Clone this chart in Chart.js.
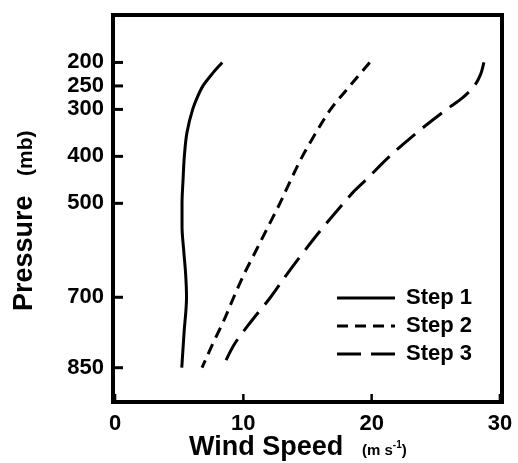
<!DOCTYPE html>
<html>
<head>
<meta charset="utf-8">
<script src="https://cdn.jsdelivr.net/npm/chart.js@4"></script>
<style>
  html, body { margin: 0; padding: 0; background: #fff; }
  #wrap { width: 518px; height: 463px; }
</style>
</head>
<body>
<div id="wrap"><canvas id="windChart" width="518" height="463"></canvas></div>
<script>
// values (pressure in mb, wind speed in m/s)
const step1Pressure = [200, 225, 250, 275, 300, 350, 400, 450, 500, 550, 600, 650, 700, 775, 850];
const step1Speed    = [8.35, 7.55, 6.85, 6.4, 6.05, 5.6, 5.4, 5.3, 5.22, 5.22, 5.35, 5.5, 5.57, 5.38, 5.2];

const step2Pressure = [200, 250, 300, 350, 400, 450, 500, 550, 600, 650, 700, 750, 800, 850];
const step2Speed    = [19.85, 18.3, 16.8, 15.65, 14.6, 13.7, 12.85, 11.92, 11.0, 10.07, 9.25, 8.47, 7.6, 6.78];

const step3Pressure = [200, 225, 250, 275, 300, 350, 400, 450, 475, 500, 550, 600, 650, 700, 750, 800, 850];
const step3Speed    = [28.75, 28.5, 28.0, 27.1, 25.85, 23.5, 21.4, 19.55, 18.6, 17.8, 16.25, 14.8, 13.42, 12.12, 10.65, 9.3, 8.37];

const seriesLabels = ['Step 1', 'Step 2', 'Step 3'];
const pressureTicks = [200, 250, 300, 400, 500, 700, 850];
const speedTicks = [0, 10, 20, 30];

const FONT = "'Liberation Sans', Arial, Helvetica, sans-serif";

function toPoints(pres, spd) {
  return pres.map((p, i) => ({ x: spd[i], y: p }));
}

const dashes = [[], [11, 7], [24, 10]];

const frameAndTicks = {
  id: 'frameAndTicks',
  afterDatasetsDraw(chart) {
    const { ctx, chartArea: a, scales } = chart;
    ctx.save();
    ctx.strokeStyle = '#000';
    // inward ticks on pressure axis
    ctx.lineWidth = 3;
    pressureTicks.forEach(p => {
      const y = scales.y.getPixelForValue(p);
      ctx.beginPath();
      ctx.moveTo(a.left, y);
      ctx.lineTo(a.left + 10, y);
      ctx.stroke();
    });
    // inward ticks on speed axis
    ctx.lineWidth = 2.5;
    speedTicks.forEach(v => {
      const x = scales.x.getPixelForValue(v);
      ctx.beginPath();
      ctx.moveTo(x, a.bottom);
      ctx.lineTo(x, a.bottom - 8);
      ctx.stroke();
    });
    ctx.lineWidth = 4;
    ctx.strokeRect(a.left, a.top, a.right - a.left, a.bottom - a.top);
    ctx.restore();
  }
};

const labelsAndLegend = {
  id: 'labelsAndLegend',
  afterDraw(chart) {
    const { ctx, chartArea: a } = chart;
    ctx.save();
    ctx.fillStyle = '#000';
    ctx.textBaseline = 'alphabetic';

    // x title
    ctx.font = 'bold 27px ' + FONT;
    ctx.fillText('Wind Speed', 189, 455);
    let ux = 362;
    ctx.font = 'bold 15px ' + FONT;
    ctx.fillText('(m s', ux, 455);
    ux += ctx.measureText('(m s').width;
    ctx.font = 'bold 10px ' + FONT;
    ctx.fillText('-1', ux, 448);
    ux += ctx.measureText('-1').width;
    ctx.font = 'bold 15px ' + FONT;
    ctx.fillText(')', ux, 455);

    // y title
    ctx.save();
    ctx.translate(32, 311);
    ctx.rotate(-Math.PI / 2);
    ctx.font = 'bold 27px ' + FONT;
    ctx.fillText('Pressure', 0, 0);
    ctx.restore();
    ctx.save();
    ctx.translate(32, 176);
    ctx.rotate(-Math.PI / 2);
    ctx.font = 'bold 21px ' + FONT;
    ctx.fillText('(mb)', 0, 0);
    ctx.restore();

    // legend
    const x0 = a.left + 224, x1 = a.left + 282;
    chart.data.datasets.forEach((ds, i) => {
      const y = a.top + 283 + i * 28;
      ctx.save();
      ctx.strokeStyle = '#000';
      ctx.lineWidth = 3;
      ctx.setLineDash(ds.borderDash || []);
      ctx.beginPath();
      ctx.moveTo(x0, y);
      ctx.lineTo(x1, y);
      ctx.stroke();
      ctx.restore();
      ctx.font = 'bold 22px ' + FONT;
      ctx.fillText(ds.label, x1 + 11, y + 6);
    });
    ctx.restore();
  }
};

new Chart(document.getElementById('windChart'), {
  type: 'line',
  data: {
    datasets: [
      { label: seriesLabels[0], data: toPoints(step1Pressure, step1Speed), borderDash: dashes[0] },
      { label: seriesLabels[1], data: toPoints(step2Pressure, step2Speed), borderDash: dashes[1] },
      { label: seriesLabels[2], data: toPoints(step3Pressure, step3Speed), borderDash: dashes[2] }
    ].map(ds => Object.assign(ds, {
      borderColor: '#000',
      borderWidth: 3,
      pointRadius: 0,
      fill: false,
      cubicInterpolationMode: 'monotone'
    }))
  },
  options: {
    responsive: false,
    animation: false,
    indexAxis: 'y',
    devicePixelRatio: 1,
    layout: { autoPadding: false, padding: { top: 15, right: 16, left: 0, bottom: 0 } },
    plugins: {
      legend: { display: false },
      tooltip: { enabled: false }
    },
    scales: {
      x: {
        type: 'linear',
        position: 'bottom',
        min: -0.16,
        max: 30.16,
        grid: { display: false, drawTicks: false },
        border: { display: false },
        afterBuildTicks: s => { s.ticks = speedTicks.map(v => ({ value: v })); },
        afterFit: s => { s.height = 61; s.paddingLeft = 0; s.paddingRight = 0; },
        ticks: {
          color: '#000',
          padding: 9,
          maxRotation: 0,
          font: { family: FONT, size: 22, weight: 'bold' }
        }
      },
      y: {
        type: 'linear',
        position: 'left',
        reverse: true,
        min: 99,
        max: 923,
        grid: { display: false, drawTicks: false },
        border: { display: false },
        afterBuildTicks: s => { s.ticks = pressureTicks.map(v => ({ value: v })); },
        afterFit: s => { s.width = 113; s.paddingTop = 0; s.paddingBottom = 0; },
        ticks: {
          color: '#000',
          padding: 9,
          font: { family: FONT, size: 22, weight: 'bold' }
        }
      }
    }
  },
  plugins: [frameAndTicks, labelsAndLegend]
});
</script>
</body>
</html>
